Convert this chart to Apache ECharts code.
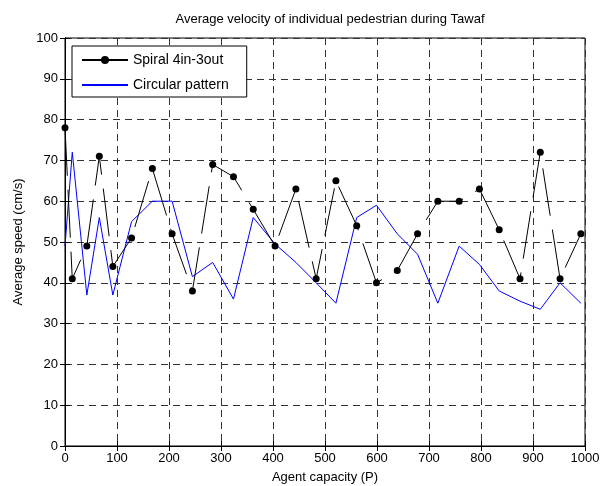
<!DOCTYPE html>
<html>
<head>
<meta charset="utf-8">
<script src="https://cdn.jsdelivr.net/npm/echarts@6/dist/echarts.min.js"></script>
<style>html,body{margin:0;padding:0;background:#fff}#c{width:600px;height:486px}</style>
</head>
<body>
<div id="c"></div>
<script>
var titleText = 'Average velocity of individual pedestrian during Tawaf';
var xLabel = 'Agent capacity (P)';
var yLabel = 'Average speed (cm/s)';
var seriesNames = ['Spiral 4in-3out', 'Circular pattern'];
var capacity = [0, 14, 42, 66, 92, 128, 168, 206, 245, 284, 324, 362, 404, 444, 483, 521, 561, 599, 639, 678, 717, 758, 797, 835, 875, 914, 952, 992];
var spiral = [78, 41, 49, 71, 44, 51, 68, 52, 38, 69, 66, 58, 49, 63, 41, 65, 54, 40, 43, 52, 60, 60, 63, 53, 41, 72, 41, 52];
var circular = [49, 72, 37, 56, 37, 55, 60, 60, 41.5, 45, 36, 56, 49.5, 45, 40, 35, 56, 59, 52, 47, 35, 49, 44.5, 38, 35.5, 33.5, 40, 35];

function pairs(xs, ys) { return xs.map(function (x, i) { return [x, ys[i]]; }); }

var font = 'Liberation Sans, Arial, Helvetica, sans-serif';
var chart = echarts.init(document.getElementById('c'), null, {renderer: 'canvas'});
var gridLine = {show: true, lineStyle: {color: '#333', type: [7, 5], width: 1}};
var plain = function (v) { return String(v); };
chart.setOption({
  animation: false,
  backgroundColor: '#fff',
  title: {
    text: titleText, left: 325, top: 8, textAlign: 'center',
    textStyle: {fontFamily: font, fontSize: 13, fontWeight: 'normal', color: '#000'}
  },
  legend: {
    left: 72, top: 46, orient: 'vertical', padding: [7, 18, 5, 9],
    itemWidth: 46, itemHeight: 10, itemGap: 11,
    borderColor: '#000', borderWidth: 1, backgroundColor: '#fff',
    textStyle: {fontFamily: font, fontSize: 14, color: '#000'},
    data: [
      {name: seriesNames[0], lineStyle: {type: 'solid'}},
      {name: seriesNames[1], itemStyle: {opacity: 0}}
    ]
  },
  grid: {left: 65, right: 15, top: 38, bottom: 40, outerBoundsMode: 'none', containLabel: false, show: true, borderColor: '#000', borderWidth: 1, backgroundColor: 'transparent'},
  xAxis: [{
    type: 'value', min: 0, max: 1000, interval: 100,
    name: xLabel, nameLocation: 'middle', nameGap: 25,
    nameTextStyle: {fontFamily: font, fontSize: 13, color: '#000'},
    axisLine: {show: true, lineStyle: {color: '#000'}},
    axisTick: {show: true, inside: true, length: 5, lineStyle: {color: '#000'}},
    axisLabel: {fontFamily: font, fontSize: 13, color: '#000', margin: 6, formatter: plain},
    splitLine: gridLine
  }, {
    type: 'value', min: 0, max: 1000, interval: 100, position: 'top',
    axisLine: {show: true, lineStyle: {color: '#000'}},
    axisTick: {show: true, inside: true, length: 5, lineStyle: {color: '#000'}},
    axisLabel: {show: false}, splitLine: {show: false}
  }],
  yAxis: [{
    type: 'value', min: 0, max: 100, interval: 10,
    name: yLabel, nameLocation: 'middle', nameGap: 38,
    nameTextStyle: {fontFamily: font, fontSize: 13, color: '#000'},
    axisLine: {show: true, lineStyle: {color: '#000'}},
    axisTick: {show: true, inside: true, length: 5, lineStyle: {color: '#000'}},
    axisLabel: {fontFamily: font, fontSize: 13, color: '#000', margin: 7, formatter: plain},
    splitLine: gridLine
  }, {
    type: 'value', min: 0, max: 100, interval: 10, position: 'right',
    axisLine: {show: true, lineStyle: {color: '#000'}},
    axisTick: {show: true, inside: true, length: 5, lineStyle: {color: '#000'}},
    axisLabel: {show: false}, splitLine: {show: false}
  }],
  series: [{
    name: seriesNames[0], type: 'line', data: pairs(capacity, spiral),
    symbol: 'circle', symbolSize: 7, showSymbol: true,
    itemStyle: {color: '#000'},
    lineStyle: {color: '#000', width: 1, type: [48, 14]},
    z: 3
  }, {
    name: seriesNames[1], type: 'line', data: pairs(capacity, circular),
    symbol: 'none', showSymbol: false,
    itemStyle: {color: '#0000ff'},
    lineStyle: {color: '#0000ff', width: 1},
    z: 2
  }]
});
</script>
</body>
</html>
